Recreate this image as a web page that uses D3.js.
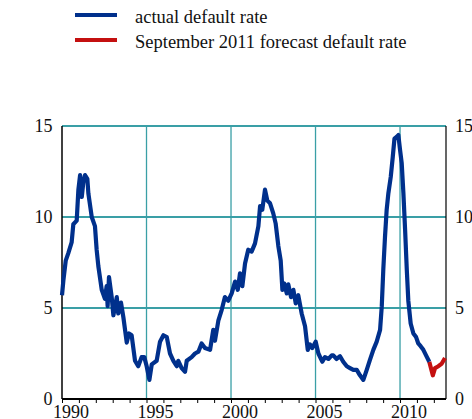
<!DOCTYPE html>
<html>
<head>
<meta charset="utf-8">
<script src="https://cdn.jsdelivr.net/npm/d3@7"></script>
<style>
  html, body { margin: 0; padding: 0; background: #fff; }
  svg { display: block; }
</style>
</head>
<body>
<svg id="chart" width="472" height="419"></svg>
<script>
// Default rate (%) by decimal year
const actualYears = [
  1990.00, 1990.08, 1990.22, 1990.37, 1990.57, 1990.67, 1990.87, 1990.97, 1991.07, 1991.17,
  1991.26, 1991.36, 1991.50, 1991.56, 1991.76, 1991.95, 1992.05, 1992.15, 1992.35, 1992.54,
  1992.64, 1992.70, 1992.78, 1992.94, 1993.04, 1993.24, 1993.33, 1993.49, 1993.63, 1993.83,
  1993.96, 1994.12, 1994.32, 1994.51, 1994.71, 1994.87, 1995.01, 1995.17, 1995.31, 1995.60,
  1995.80, 1996.00, 1996.20, 1996.39, 1996.59, 1996.79, 1996.88, 1997.08, 1997.28, 1997.38,
  1997.67, 1997.87, 1998.07, 1998.26, 1998.46, 1998.76, 1998.95, 1999.05, 1999.25, 1999.45,
  1999.64, 1999.84, 2000.04, 2000.24, 2000.40, 2000.53, 2000.67, 2000.83, 2001.02, 2001.22,
  2001.42, 2001.62, 2001.72, 2001.85, 2002.01, 2002.15, 2002.31, 2002.50, 2002.64, 2002.80,
  2002.94, 2003.04, 2003.15, 2003.30, 2003.39, 2003.55, 2003.69, 2003.83, 2003.98, 2004.18,
  2004.38, 2004.54, 2004.67, 2004.81, 2005.01, 2005.17, 2005.40, 2005.56, 2005.76, 2005.96,
  2006.05, 2006.25, 2006.45, 2006.64, 2006.85, 2007.04, 2007.24, 2007.44, 2007.63, 2007.83,
  2008.03, 2008.22, 2008.42, 2008.62, 2008.82, 2008.92, 2009.01, 2009.11, 2009.21, 2009.31,
  2009.45, 2009.57, 2009.67, 2009.80, 2009.90, 2010.00, 2010.10, 2010.20, 2010.30, 2010.40,
  2010.49, 2010.63, 2010.79, 2010.95, 2011.08, 2011.22, 2011.38, 2011.54, 2011.73
];
const actualRates = [
  5.7, 6.5, 7.6, 8.0, 8.6, 9.6, 9.8, 11.5, 12.3, 11.1,
  11.9, 12.3, 12.1, 11.3, 10.0, 9.5, 8.2, 7.3, 6.0, 5.5,
  6.2, 5.1, 6.7, 5.6, 4.6, 5.6, 4.7, 5.3, 4.5, 3.1,
  3.6, 3.5, 2.1, 1.8, 2.3, 2.3, 1.8, 1.05, 1.9, 2.1,
  3.15, 3.5, 3.4, 2.5, 2.1, 1.8, 2.1, 1.7, 1.5, 2.1,
  2.3, 2.5, 2.6, 3.05, 2.8, 2.7, 3.8, 3.2, 4.3, 4.9,
  5.6, 5.4, 5.8, 6.45, 6.0, 6.9, 6.2, 7.45, 8.2, 8.1,
  8.55, 9.5, 10.6, 10.4, 11.5, 10.9, 10.75, 10.2, 9.65, 8.4,
  7.6, 6.0, 6.35, 5.8, 6.3, 5.6, 6.0, 5.25, 5.7, 4.7,
  4.0, 2.7, 3.0, 2.8, 3.15, 2.5, 2.05, 2.3, 2.2, 2.4,
  2.4, 2.2, 2.35, 2.05, 1.8, 1.7, 1.6, 1.6, 1.3, 1.05,
  1.6, 2.15, 2.7, 3.15, 3.8, 5.1, 7.1, 8.9, 10.4, 11.3,
  12.2, 13.3, 14.3, 14.4, 14.5, 13.7, 12.95, 11.3, 9.3, 7.1,
  5.4, 4.15, 3.6, 3.4, 3.05, 2.9, 2.7, 2.4, 2.05
];
const forecastYears = [2011.73, 2011.94, 2012.07, 2012.27, 2012.47, 2012.66];
const forecastRates = [2.05, 1.3, 1.7, 1.8, 1.95, 2.25];

const seriesNames = ["actual default rate", "September 2011 forecast default rate"];
const seriesColors = ["#00308c", "#c41010"];
const yTicks = [0, 5, 10, 15];
const xLabelYears = [1990, 1995, 2000, 2005, 2010];
const xGridYears = [1995, 2000, 2005, 2010];

const svg = d3.select("#chart");
const plotL = 62, plotR = 446, plotT = 126, plotB = 399;
const serif = '"Liberation Serif", "Times New Roman", serif';

const x = d3.scaleLinear().domain([1990, 2012.72]).range([plotL, plotR]);
const y = d3.scaleLinear().domain([0, 15]).range([plotB, plotT]);

const grid = "#3a9fa6";

// horizontal grid lines
svg.append("g").selectAll("line").data(yTicks.filter(d => d > 0)).join("line")
  .attr("x1", plotL).attr("x2", plotR)
  .attr("y1", d => y(d)).attr("y2", d => y(d))
  .attr("stroke", grid).attr("stroke-width", 1.8);

// vertical grid lines
svg.append("g").selectAll("line").data(xGridYears).join("line")
  .attr("x1", d => x(d)).attr("x2", d => x(d))
  .attr("y1", plotT).attr("y2", plotB)
  .attr("stroke", grid).attr("stroke-width", 1.3);

// axes frame
svg.append("line").attr("x1", plotL).attr("x2", plotL).attr("y1", plotT).attr("y2", plotB)
  .attr("stroke", "#000").attr("stroke-width", 1.5);
svg.append("line").attr("x1", plotR).attr("x2", plotR).attr("y1", plotT).attr("y2", plotB)
  .attr("stroke", "#000").attr("stroke-width", 1.2);

// bottom axis: a tick at each year start
const xAxis = d3.axisBottom(x)
  .tickValues(d3.range(1990, 2013))
  .tickSize(4)
  .tickFormat("");
const gx = svg.append("g").attr("transform", `translate(0,${plotB})`).call(xAxis);
gx.select(".domain").attr("stroke", "#000").attr("stroke-width", 2.2)
  .attr("d", `M${plotL},0H${plotR}`);
gx.selectAll(".tick line").attr("stroke", "#000").attr("stroke-width", 1);

// year labels sit in the middle of their year
const xLabelAxis = d3.axisBottom(x)
  .tickValues(xLabelYears.map(d => d + 0.5))
  .tickSize(0)
  .tickFormat(d => Math.floor(d));
const gxl = svg.append("g").attr("transform", `translate(0,${plotB})`).call(xLabelAxis);
gxl.select(".domain").remove();
gxl.selectAll(".tick text")
  .attr("y", 18.5).attr("dy", null)
  .style("font-family", serif).style("font-size", "18px").attr("fill", "#111");

// left axis labels
const yAxisL = d3.axisLeft(y).tickValues(yTicks).tickSize(0).tickPadding(9.5);
const gyl = svg.append("g").attr("transform", `translate(${plotL},0)`).call(yAxisL);
gyl.select(".domain").remove();
gyl.selectAll(".tick text")
  .style("font-family", serif).style("font-size", "18px").attr("fill", "#111");

// right axis labels
const yAxisR = d3.axisRight(y).tickValues(yTicks).tickSize(0).tickPadding(9);
const gyr = svg.append("g").attr("transform", `translate(${plotR},0)`).call(yAxisR);
gyr.select(".domain").remove();
gyr.selectAll(".tick text")
  .style("font-family", serif).style("font-size", "18px").attr("fill", "#111");

// series lines
const line = d3.line().x(d => x(d[0])).y(d => y(d[1])).curve(d3.curveLinear);
const actual = actualYears.map((d, i) => [d, actualRates[i]]);
const forecast = forecastYears.map((d, i) => [d, forecastRates[i]]);

svg.append("path").datum(forecast).attr("d", line)
  .attr("fill", "none").attr("stroke", seriesColors[1]).attr("stroke-width", 4.2)
  .attr("stroke-linejoin", "round");
svg.append("path").datum(actual).attr("d", line)
  .attr("fill", "none").attr("stroke", seriesColors[0]).attr("stroke-width", 4.2)
  .attr("stroke-linejoin", "round");

// legend
const legend = svg.append("g");
seriesNames.forEach((name, i) => {
  const ly = 15 + i * 25;
  legend.append("line").attr("x1", 75).attr("x2", 117).attr("y1", ly).attr("y2", ly)
    .attr("stroke", seriesColors[i]).attr("stroke-width", 4);
  legend.append("text").attr("x", 135).attr("y", ly + 8)
    .style("font-family", serif).style("font-size", "18.5px").attr("fill", "#111")
    .text(name);
});
</script>
</body>
</html>
